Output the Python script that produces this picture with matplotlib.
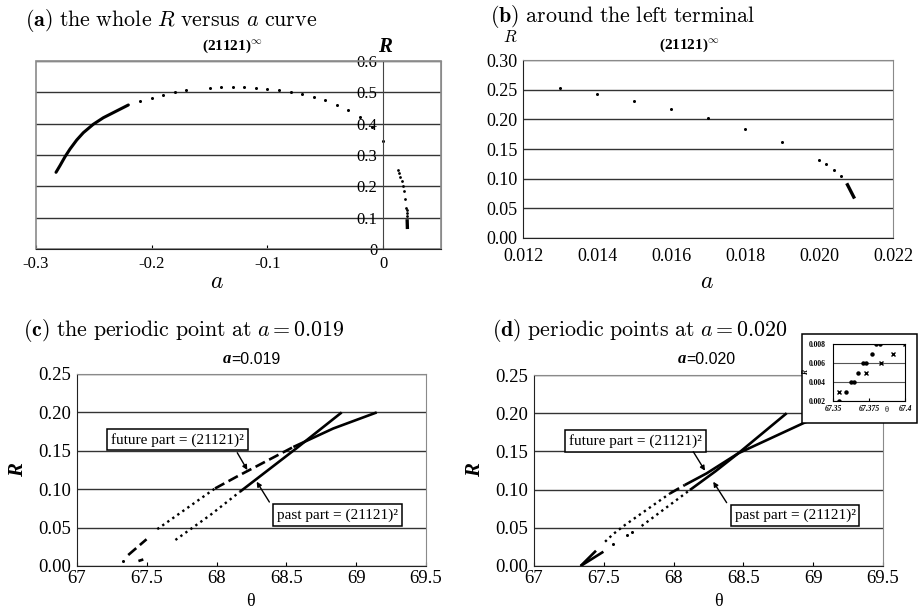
import matplotlib
matplotlib.use("Agg")
import matplotlib.pyplot as plt
from matplotlib.patches import Rectangle

plt.rcParams['mathtext.fontset'] = 'cm'
plt.rcParams['font.family'] = 'Liberation Serif'
plt.rcParams['axes.unicode_minus'] = False

W, H = 919, 610

# ---- (a) whole R versus a curve ----
a_solid_a = [-0.2827, -0.2793, -0.2749, -0.2706, -0.2648, -0.2591, -0.2505, -0.2418,
             -0.2317, -0.2202]
a_solid_R = [0.2448, 0.2659, 0.2946, 0.3191, 0.3479, 0.3712, 0.398, 0.419, 0.438, 0.4596]
a_dot_a = [-0.21, -0.20, -0.19, -0.18, -0.17, -0.15, -0.14, -0.13, -0.12, -0.11,
           -0.10, -0.09, -0.08, -0.07, -0.06, -0.05, -0.04, -0.03, -0.02, -0.01, 0.0]
a_dot_R = [0.473, 0.483, 0.491, 0.500, 0.506, 0.514, 0.516, 0.516, 0.516, 0.513,
           0.511, 0.506, 0.502, 0.496, 0.485, 0.474, 0.460, 0.443, 0.420, 0.388, 0.346]
a_xticks = [-0.3, -0.2, -0.1, 0.0]
a_xticklabels = ['-0.3', '-0.2', '-0.1', '0']
a_yticks = [0, 0.1, 0.2, 0.3, 0.4, 0.5, 0.6]
a_yticklabels = ['0', '0.1', '0.2', '0.3', '0.4', '0.5', '0.6']

# ---- (b) around the left terminal ----
b_a = [0.013, 0.014, 0.015, 0.016, 0.017, 0.018, 0.019, 0.020, 0.0202, 0.0204, 0.0206]
b_R = [0.2535, 0.243, 0.231, 0.217, 0.2024, 0.184, 0.161, 0.132, 0.1245, 0.115, 0.104]
b_tail_a = [0.02077, 0.02094]
b_tail_R = [0.0897, 0.069]
b_xticks = [0.012, 0.014, 0.016, 0.018, 0.020, 0.022]
b_yticks = [0.0, 0.05, 0.10, 0.15, 0.20, 0.25, 0.30]

# ---- (c) periodic point at a = 0.019 ----
c_fut_theta = [[67.327], [67.367, 67.498], [67.575, 67.989], [67.989, 68.144, 68.55],
               [68.55, 68.835, 69.147]]
c_fut_R = [[0.0065], [0.0143, 0.0348], [0.048, 0.101], [0.101, 0.1163, 0.155],
           [0.155, 0.179, 0.200]]
c_fut_style = ['pt', 'dash', 'dot', 'dash', 'solid']
c_past_theta = [[67.44, 67.475], [67.705, 67.955, 68.166], [68.166, 68.57, 68.896]]
c_past_R = [[0.0065, 0.0085], [0.0339, 0.0664, 0.0965], [0.0965, 0.153, 0.200]]
c_past_style = ['solid', 'dot', 'solid']

# ---- (d) periodic points at a = 0.020 ----
d_fut_theta = [[67.334, 67.444], [67.334, 67.497], [67.509, 67.568, 67.652, 67.974],
               [67.974, 68.08], [68.08, 68.237, 68.463, 68.93, 69.1]]
d_fut_R = [[0.0, 0.020], [0.0, 0.0187], [0.0318, 0.0419, 0.0537, 0.095],
           [0.095, 0.106], [0.106, 0.1213, 0.1475, 0.187, 0.200]]
d_fut_style = ['solid', 'solid', 'dot', 'dash', 'solid']
d_past_theta = [[67.568, 67.664, 67.70], [67.771, 68.117], [68.117, 68.30, 68.46, 68.81]]
d_past_R = [[0.0288, 0.0406, 0.045], [0.0524, 0.0995], [0.0995, 0.124, 0.147, 0.200]]
d_past_style = ['pt', 'dot', 'solid']

theta_ticks = [67, 67.5, 68, 68.5, 69, 69.5]
theta_labels = ['67', '67.5', '68', '68.5', '69', '69.5']
R_ticks = [0.0, 0.05, 0.10, 0.15, 0.20, 0.25]

# inset of (d)
ins_dot_theta = [67.3539, 67.359, 67.3624, 67.3647, 67.3671, 67.3705, 67.3728, 67.377, 67.380, 67.3827]
ins_dot_R = [0.002, 0.003, 0.004, 0.004, 0.005, 0.006, 0.006, 0.007, 0.008, 0.008]
ins_x_theta = [67.3544, 67.373, 67.3832, 67.3915, 67.400]
ins_x_R = [0.003, 0.005, 0.006, 0.007, 0.008]
ins_xticks = [67.35, 67.375, 67.4]
ins_xlabels = ['67.35', '67.375', '67.4']
ins_yticks = [0.002, 0.004, 0.006, 0.008]
ins_ylabels = ['0.002', '0.004', '0.006', '0.008']


def rect(l, t, r, b):
    return [l / W, 1 - b / H, (r - l) / W, (b - t) / H]


def fx(x):
    return x / W


def fy(y):
    return 1 - y / H


def draw_pieces(ax, thetas, Rs, styles):
    for th, r, st in zip(thetas, Rs, styles):
        if st == 'pt':
            ax.plot(th, r, 'o', color='black', ms=2.2, mew=0)
        elif st == 'dot':
            ax.plot(th, r, color='black', lw=1.7, linestyle=(0, (1, 1.6)))
        elif st == 'dash':
            ax.plot(th, r, color='black', lw=1.9, linestyle=(0, (4, 1.8)))
        else:
            ax.plot(th, r, color='black', lw=1.9, solid_capstyle='butt')


def frame_style(ax):
    for side in ['top', 'right']:
        ax.spines[side].set_color('#8a8a8a')
    for side in ['left', 'bottom']:
        ax.spines[side].set_color('#222222')
    ax.grid(axis='y', color='#333333', lw=1)
    ax.set_axisbelow(True)


fig = plt.figure(figsize=(W / 100, H / 100), dpi=100)

# ---------- (a) ----------
ax = fig.add_axes(rect(36, 61, 441, 249))
ax.plot(a_solid_a, a_solid_R, color='black', lw=2.2, solid_capstyle='round')
ax.plot(a_dot_a, a_dot_R, 'o', color='black', ms=2.2, mew=0)
ax.plot(b_a, b_R, 'o', color='black', ms=2.0, mew=0)
ax.plot(b_tail_a, b_tail_R, color='black', lw=2.4)
ax.set_xlim(-0.3, 0.05)
ax.set_ylim(0, 0.6)
ax.set_xticks(a_xticks, a_xticklabels)
ax.set_yticks(a_yticks, a_yticklabels)
ax.spines['left'].set_position(('data', 0))
frame_style(ax)
ax.spines['left'].set_color('#444444')
ax.add_patch(Rectangle((0, 0), 1, 1, transform=ax.transAxes, fill=False,
                       ec='#8a8a8a', lw=1.2, clip_on=False))
ax.tick_params(axis='x', direction='in', length=3, labelsize=12, pad=5)
ax.tick_params(axis='y', length=0, labelsize=12, pad=4)
fig.text(fx(25), fy(20), r"$\mathbf{(a)}\ \mathrm{the\ whole}\ R\ \mathrm{versus}\ a\ \mathrm{curve}$",
         fontsize=15.8, ha='left', va='center')
fig.text(fx(233), fy(46), r"(21121)$^{\infty}$", fontsize=11, fontweight='bold',
         ha='center', va='center')
fig.text(fx(385), fy(47), "R", fontsize=15, fontweight='bold', style='italic',
         ha='center', va='center')
fig.text(fx(217), fy(283), r"$a$", fontsize=17, ha='center', va='center')

# ---------- (b) ----------
ax = fig.add_axes(rect(523, 60, 893, 238))
ax.plot(b_a, b_R, 'o', color='black', ms=2.2, mew=0)
ax.plot(b_tail_a, b_tail_R, color='black', lw=2.4)
ax.set_xlim(0.012, 0.022)
ax.set_ylim(0, 0.30)
ax.set_xticks(b_xticks, ['%.3f' % v for v in b_xticks])
ax.set_yticks(b_yticks, ['%.2f' % v for v in b_yticks])
frame_style(ax)
ax.tick_params(axis='x', length=0, labelsize=13, pad=7)
ax.tick_params(axis='y', length=0, labelsize=13, pad=4)
fig.text(fx(490), fy(17), r"$\mathbf{(b)}\ \mathrm{around\ the\ left\ terminal}$",
         fontsize=15.8, ha='left', va='center')
fig.text(fx(690), fy(45), r"(21121)$^{\infty}$", fontsize=11, fontweight='bold',
         ha='center', va='center')
fig.text(fx(510), fy(38), r"$R$", fontsize=12, ha='center', va='center')
fig.text(fx(707), fy(283), r"$a$", fontsize=17, ha='center', va='center')


# ---------- (c) and (d) ----------
def theta_panel(l, t, r, b):
    ax = fig.add_axes(rect(l, t, r, b))
    ax.set_xlim(67, 69.5)
    ax.set_ylim(0, 0.25)
    ax.set_xticks(theta_ticks, theta_labels)
    ax.set_yticks(R_ticks, ['%.2f' % v for v in R_ticks])
    frame_style(ax)
    ax.tick_params(axis='x', direction='in', length=3, labelsize=13.5, pad=3)
    ax.tick_params(axis='y', length=0, labelsize=13.5, pad=4)
    return ax


def note(ax, text, box_xy, tail, head):
    ax.text(box_xy[0], box_xy[1], text, fontsize=11, ha='center', va='center',
            bbox=dict(boxstyle='square,pad=0.25', fc='white', ec='black', lw=1.1), zorder=5)
    ax.annotate('', xy=head, xytext=tail,
                arrowprops=dict(arrowstyle='-|>', lw=1.0, color='black',
                                mutation_scale=7, shrinkA=0, shrinkB=0), zorder=5)


ax = theta_panel(77, 374, 426, 566)
draw_pieces(ax, c_fut_theta, c_fut_R, c_fut_style)
draw_pieces(ax, c_past_theta, c_past_R, c_past_style)
note(ax, "future part = (21121)\u00b2", (67.72, 0.1645), (68.148, 0.1475), (68.22, 0.125))
note(ax, "past part = (21121)\u00b2", (68.866, 0.0664), (68.378, 0.0833), (68.287, 0.1098))
fig.text(fx(23), fy(330), r"$\mathbf{(c)}\ \mathrm{the\ periodic\ point\ at}\ a = 0.019$",
         fontsize=15.8, ha='left', va='center')
fig.text(fx(231), fy(359), "a", fontsize=12, fontweight='bold', style='italic',
         ha='right', va='center')
fig.text(fx(231), fy(359), "=0.019", fontsize=11.5, family='Liberation Sans',
         ha='left', va='center')
fig.text(fx(18), fy(470), "R", fontsize=15, fontweight='bold', style='italic',
         rotation=90, ha='center', va='center')
fig.text(fx(250), fy(602), "\u03b8", fontsize=13, ha='center', va='center')

ax = theta_panel(534, 375, 883, 566)
draw_pieces(ax, d_fut_theta, d_fut_R, d_fut_style)
draw_pieces(ax, d_past_theta, d_past_R, d_past_style)
note(ax, "future part = (21121)\u00b2", (67.727, 0.164), (68.141, 0.1496), (68.225, 0.1247))
note(ax, "past part = (21121)\u00b2", (68.87, 0.066), (68.38, 0.0829), (68.284, 0.1103))
fig.text(fx(492), fy(330), r"$\mathbf{(d)}\ \mathrm{periodic\ points\ at}\ a = 0.020$",
         fontsize=15.8, ha='left', va='center')
fig.text(fx(686), fy(359), "a", fontsize=12, fontweight='bold', style='italic',
         ha='right', va='center')
fig.text(fx(686), fy(359), "=0.020", fontsize=11.5, family='Liberation Sans',
         ha='left', va='center')
fig.text(fx(475), fy(470), "R", fontsize=15, fontweight='bold', style='italic',
         rotation=90, ha='center', va='center')
fig.text(fx(718), fy(602), "\u03b8", fontsize=13, ha='center', va='center')

# inset box
fig.add_artist(Rectangle((fx(802), fy(423)), (917 - 802) / W, (423 - 334) / H,
                         transform=fig.transFigure, fc='white', ec='black', lw=1.1, zorder=3))
ins = fig.add_axes(rect(833, 344, 905, 401), zorder=4)
ins.plot(ins_dot_theta, ins_dot_R, 'o', color='black', ms=3.2, mew=0)
ins.plot(ins_x_theta, ins_x_R, 'x', color='black', ms=3.2, mew=1.0)
ins.set_xlim(67.35, 67.40)
ins.set_ylim(0.002, 0.008)
ins.set_xticks(ins_xticks, ins_xlabels)
ins.set_yticks(ins_yticks, ins_ylabels)
for lab in ins.get_xticklabels():
    lab.set_style('italic')
for lab in ins.get_xticklabels() + ins.get_yticklabels():
    lab.set_fontweight('bold')
ins.grid(axis='y', color='#555555', lw=0.8)
ins.tick_params(axis='x', direction='in', length=2, labelsize=5.5, pad=3)
ins.tick_params(axis='y', length=0, labelsize=5.5, pad=5)
for s in ins.spines.values():
    s.set_linewidth(0.8)
fig.text(fx(806), fy(372), "R", fontsize=5.5, fontweight='bold', style='italic',
         rotation=90, ha='center', va='center', zorder=5)
fig.text(fx(887), fy(410), "\u03b8", fontsize=6, ha='center', va='center', zorder=5)

fig.savefig("out.png", dpi=100)
